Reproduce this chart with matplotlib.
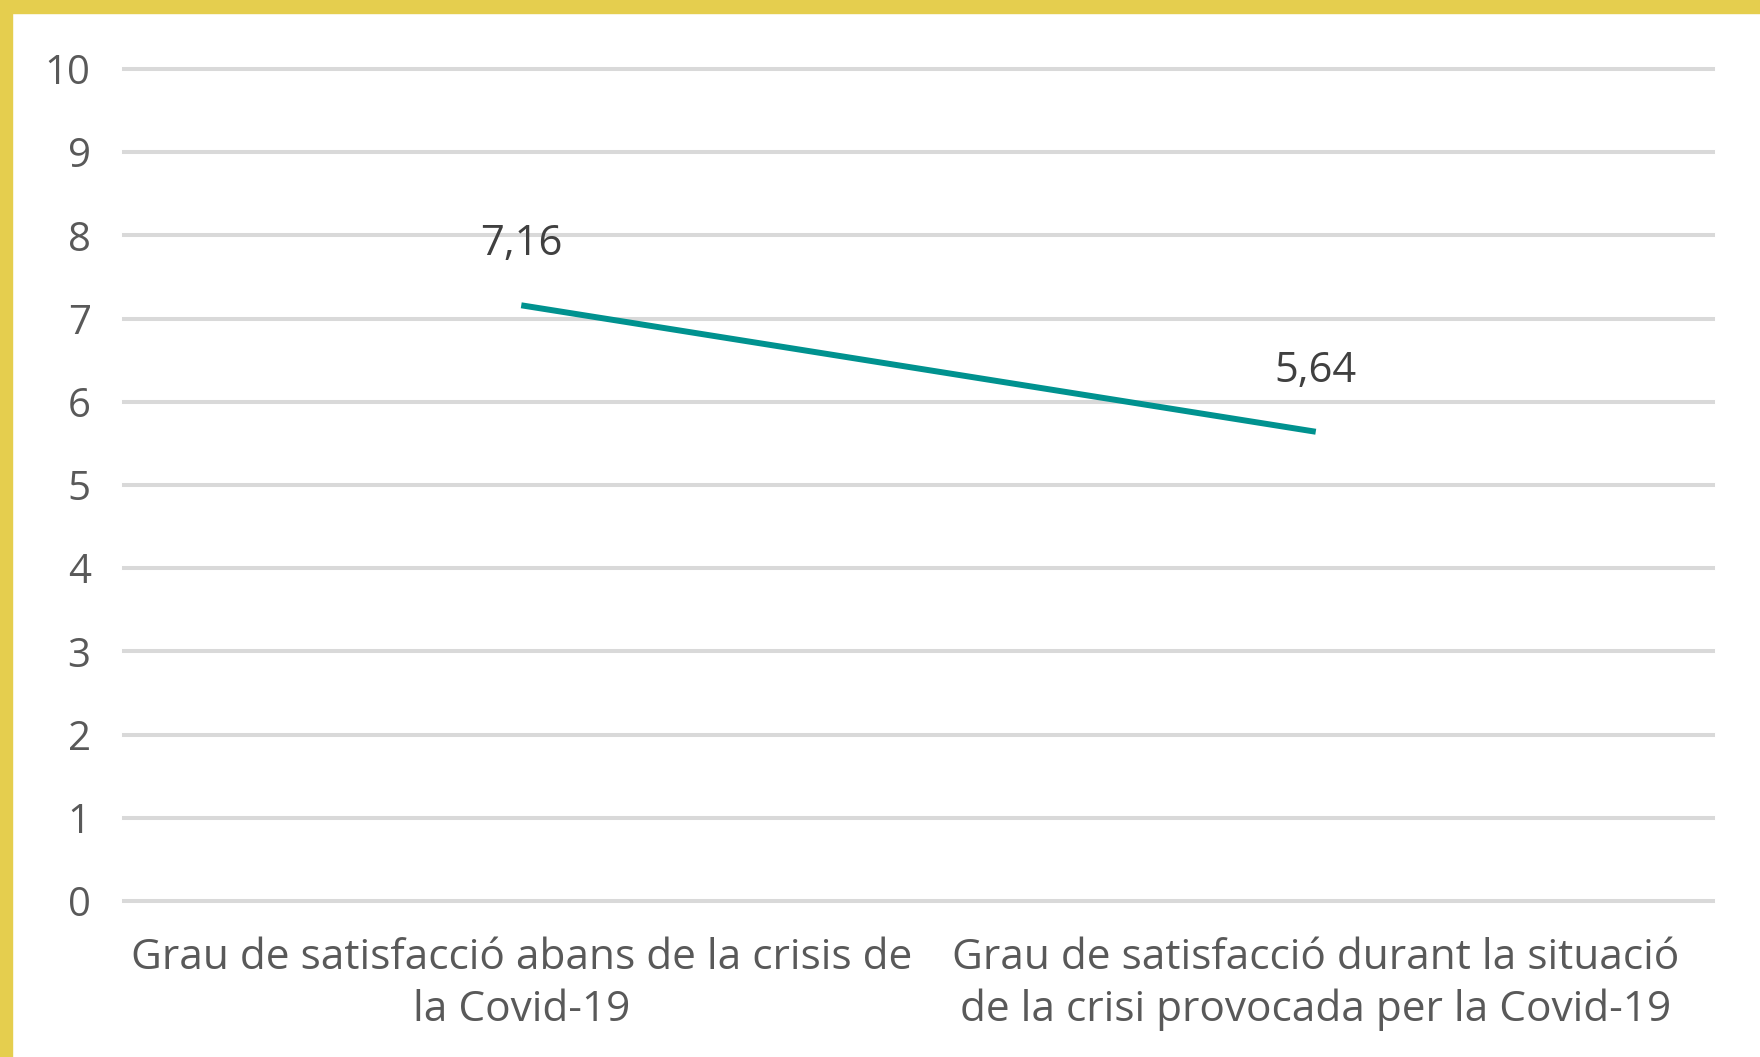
import matplotlib
matplotlib.use("Agg")
import matplotlib.pyplot as plt
from matplotlib import font_manager as fm
from matplotlib.patches import Rectangle

categories = ["Grau de satisfacció abans de la crisis de\nla Covid-19",
              "Grau de satisfacció durant la situació\nde la crisi provocada per la Covid-19"]
values = [7.16, 5.64]
value_labels = ["7,16", "5,64"]
yticks = list(range(0, 11))

def pick(fams):
    for f in fams:
        try:
            fm.findfont(fm.FontProperties(family=f), fallback_to_default=False)
            return f
        except Exception:
            pass
    return "DejaVu Sans"

font = pick(["Open Sans", "DejaVu Sans"])
plt.rcParams['font.family'] = [font, 'DejaVu Sans']

fig = plt.figure(figsize=(17.6, 10.57), dpi=100)
fig.patches.append(Rectangle((0, 1 - 13/1057), 1, 13/1057, transform=fig.transFigure,
                             color="#E5CE4E", zorder=10))
fig.patches.append(Rectangle((0, 0), 12/1760, 1, transform=fig.transFigure,
                             color="#E5CE4E", zorder=10))

ax = fig.add_axes([124/1760, 1 - 901/1057, (1713-124)/1760, (901-69)/1057])
x = list(range(len(categories)))
ax.plot(x, values, color="#00928F", lw=4.3, solid_capstyle="butt", zorder=3)
for xi, v, lab in zip(x, values, value_labels):
    ax.annotate(lab, (xi, v), xytext=(0, 44), textcoords="offset points",
                ha="center", va="center", fontsize=30, color="#404040")

ax.set_xlim(-0.5, 1.5)
ax.set_ylim(0, 10)
ax.set_yticks(yticks)
ax.set_yticklabels([str(t) for t in yticks])
ax.set_xticks(x)
ax.set_xticklabels(categories, linespacing=1.3, fontsize=30.5)
ax.yaxis.grid(True, color="#D9D9D9", lw=2.9)
ax.set_axisbelow(True)
for s in ax.spines.values():
    s.set_visible(False)
ax.tick_params(axis="both", length=0, labelsize=29, colors="#595959")
ax.tick_params(axis="x", labelsize=30.5)
ax.tick_params(axis="y", pad=24)
ax.tick_params(axis="x", pad=26)
for gl in ax.get_ygridlines():
    gl.set_clip_on(False)

fig.savefig("out.png", dpi=100, facecolor="white")
